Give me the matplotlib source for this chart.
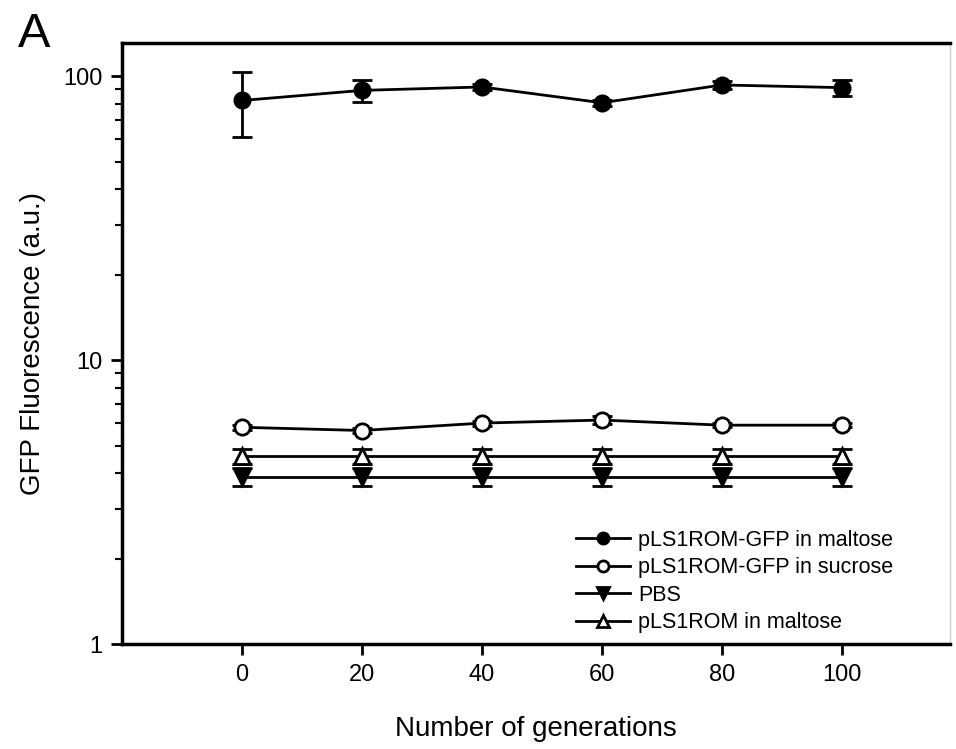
import numpy as np
import matplotlib.pyplot as plt
from matplotlib.ticker import FuncFormatter
from matplotlib.lines import Line2D

plt.rcParams['font.family'] = ['Liberation Sans', 'DejaVu Sans']

generations = [0, 20, 40, 60, 80, 100]

gfp_maltose = [82, 89, 91.5, 80.5, 93, 91]
gfp_maltose_err = [21, 8, 2, 2, 3, 6]

gfp_sucrose = [5.8, 5.65, 6.0, 6.15, 5.9, 5.9]
gfp_sucrose_err = [0.12, 0.12, 0.12, 0.2, 0.1, 0.1]

pbs = [3.88, 3.88, 3.88, 3.88, 3.88, 3.88]
pbs_err = [0.28, 0.28, 0.28, 0.28, 0.28, 0.28]

rom_maltose = [4.6, 4.6, 4.6, 4.6, 4.6, 4.6]
rom_maltose_err = [0.28, 0.28, 0.28, 0.28, 0.28, 0.28]

labels = ['pLS1ROM-GFP in maltose', 'pLS1ROM-GFP in sucrose', 'PBS', 'pLS1ROM in maltose']

fig = plt.figure(figsize=(9.56, 7.49), dpi=100)
ax = fig.add_axes([0.1276, 0.140, 0.8661, 0.803])

common = dict(color='black', lw=2, markersize=11, capsize=7, capthick=2,
              elinewidth=2, markeredgewidth=2)
ax.errorbar(generations, gfp_maltose, yerr=gfp_maltose_err, fmt='-o',
            mfc='black', zorder=5, **common)
ax.errorbar(generations, gfp_sucrose, yerr=gfp_sucrose_err, fmt='-o',
            mfc='white', zorder=5, **common)
ax.errorbar(generations, pbs, yerr=pbs_err, fmt='-v',
            mfc='black', zorder=4, **common)
ax.errorbar(generations, rom_maltose, yerr=rom_maltose_err, fmt='-^',
            mfc='white', zorder=4, **common)

ax.set_yscale('log')
ax.set_ylim(1, 131)
ax.set_xlim(-20, 118)
ax.set_xticks(generations)
ax.yaxis.set_major_formatter(FuncFormatter(lambda v, p: '%g' % v))
ax.yaxis.set_minor_formatter(FuncFormatter(lambda v, p: ''))

ax.tick_params(axis='both', which='major', direction='out', length=8, width=2,
               labelsize=17, pad=6)
ax.tick_params(axis='y', which='minor', direction='out', length=5, width=1.5)
for s in ['left', 'bottom', 'top']:
    ax.spines[s].set_linewidth(2.5)
ax.spines['right'].set_color('#cccccc')
ax.spines['right'].set_linewidth(1)

ax.set_xlabel('Number of generations', fontsize=20, labelpad=22)
ax.set_ylabel('GFP Fluorescence (a.u.)', fontsize=20, labelpad=12)

handles = [
    Line2D([], [], color='black', lw=2, marker='o', mfc='black', markersize=8, mew=2),
    Line2D([], [], color='black', lw=2, marker='o', mfc='white', markersize=8, mew=2),
    Line2D([], [], color='black', lw=2, marker='v', mfc='black', markersize=8, mew=2),
    Line2D([], [], color='black', lw=2, marker='^', mfc='white', markersize=8, mew=2),
]
ax.legend(handles, labels, loc='lower right', bbox_to_anchor=(0.955, -0.014),
          frameon=False, fontsize=15.5, handlelength=2.5, handletextpad=0.4,
          labelspacing=0.3)

fig.text(0.019, 0.937, 'A', fontsize=35)

fig.savefig('out.png', dpi=100)
